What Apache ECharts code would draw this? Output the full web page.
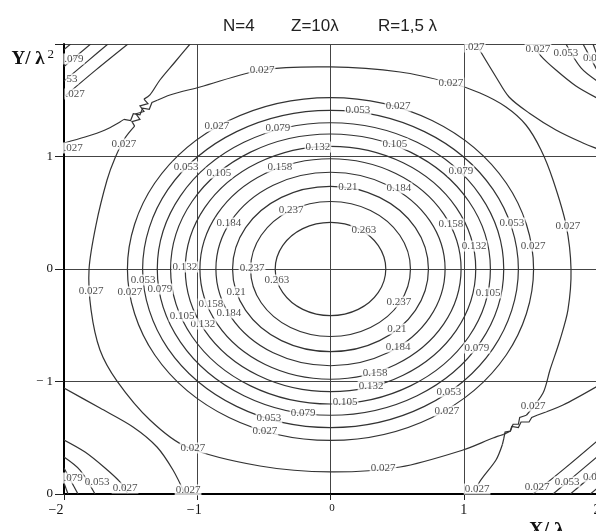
<!DOCTYPE html>
<html><head><meta charset="utf-8">
<script src="https://cdn.jsdelivr.net/npm/echarts@6.0.0/dist/echarts.min.js"></script>
<style>html,body{margin:0;padding:0;background:#fff}#c{width:596px;height:531px}</style>
</head><body><div id="c"></div>
<script>
// ---- axis ticks ----
const xTickValues = [-2, -1, 0, 1, 2];
const xTickLabels = ['−2', '−1', '0', '1', '2'];
const yTickValues = [-2, -1, 0, 1, 2];
const yTickLabels = ['0', '− 1', '0', '1', ''];

// ---- closed contour rings around the central peak (x/λ, y/λ) ----
const ring0263 = [[0.415,0],[0.359,0.208],[0.208,0.359],[0,0.415],[-0.208,0.359],[-0.359,0.208],[-0.415,0],[-0.359,-0.208],[-0.208,-0.359],[0,-0.415],[0.208,-0.359],[0.359,-0.208]];
const ring0237 = [[0.60,0],[0.520,0.30],[0.30,0.520],[0,0.60],[-0.30,0.520],[-0.520,0.30],[-0.60,0],[-0.520,-0.30],[-0.30,-0.520],[0,-0.60],[0.30,-0.520],[0.520,-0.30]];
const ring0210 = [[0.735,0],[0.637,0.368],[0.368,0.637],[0,0.735],[-0.368,0.637],[-0.637,0.368],[-0.735,0],[-0.637,-0.368],[-0.368,-0.637],[0,-0.735],[0.368,-0.637],[0.637,-0.368]];
const ring0184 = [[0.86,0],[0.745,0.43],[0.43,0.745],[0,0.86],[-0.43,0.745],[-0.745,0.43],[-0.86,0],[-0.745,-0.43],[-0.43,-0.745],[0,-0.86],[0.43,-0.745],[0.745,-0.43]];
const ring0158 = [[0.98,0],[0.849,0.49],[0.49,0.849],[0,0.98],[-0.49,0.849],[-0.849,0.49],[-0.98,0],[-0.849,-0.49],[-0.49,-0.849],[0,-0.98],[0.49,-0.849],[0.849,-0.49]];
const ring0132 = [[1.09,0],[0.944,0.545],[0.545,0.944],[0,1.09],[-0.545,0.944],[-0.944,0.545],[-1.09,0],[-0.944,-0.545],[-0.545,-0.944],[0,-1.09],[0.545,-0.944],[0.944,-0.545]];
const ring0105 = [[1.20,0],[1.039,0.60],[0.60,1.039],[0,1.20],[-0.60,1.039],[-1.039,0.60],[-1.20,0],[-1.039,-0.60],[-0.60,-1.039],[0,-1.20],[0.60,-1.039],[1.039,-0.60]];
const ring0079 = [[1.30,0],[1.126,0.65],[0.65,1.126],[0,1.30],[-0.65,1.126],[-1.126,0.65],[-1.30,0],[-1.126,-0.65],[-0.65,-1.126],[0,-1.30],[0.65,-1.126],[1.126,-0.65]];
const ring0053 = [[1.41,0],[1.221,0.705],[0.705,1.221],[0,1.41],[-0.705,1.221],[-1.221,0.705],[-1.41,0],[-1.221,-0.705],[-0.705,-1.221],[0,-1.41],[0.705,-1.221],[1.221,-0.705]];
const ring0027 = [[1.524,0],[1.320,0.762],[0.762,1.320],[0,1.524],[-0.762,1.320],[-1.320,0.762],[-1.524,0],[-1.320,-0.762],[-0.762,-1.320],[0,-1.524],[0.762,-1.320],[1.320,-0.762]];

// ---- outer 0.027 contour lines (two branches crossing at saddles) ----
const branchA_1 = [[-1.054,2.0],[-1.167,1.84],[-1.28,1.68],[-1.355,1.547],[-1.40,1.51]];
const branchA_zig1 = [[-1.40,1.51],[-1.37,1.47],[-1.43,1.45],[-1.40,1.40],[-1.46,1.38],[-1.43,1.33],[-1.49,1.31],[-1.47,1.27]];
const branchA_2 = [[-1.47,1.27],[-1.542,1.164],[-1.617,0.987],[-1.677,0.791],[-1.76,0.391],[-1.812,0],[-1.797,-0.364],[-1.73,-0.72],[-1.602,-0.996],[-1.355,-1.342],[-1.077,-1.582],[-0.529,-1.751],[0,-1.804],[0.522,-1.76],[0.994,-1.609],[1.22,-1.502],[1.30,-1.47]];
const branchA_zig2 = [[1.30,-1.47],[1.35,-1.44],[1.36,-1.40],[1.41,-1.41],[1.43,-1.36],[1.49,-1.36],[1.51,-1.32],[1.55,-1.30]];
const branchA_3 = [[1.55,-1.30],[1.745,-1.209],[2.0,-1.044]];

const branchB_1 = [[-2,1.12],[-1.842,1.173],[-1.692,1.236],[-1.58,1.307],[-1.55,1.33]];
const branchB_zig1 = [[-1.55,1.33],[-1.50,1.32],[-1.48,1.38],[-1.43,1.37],[-1.41,1.43],[-1.36,1.42],[-1.34,1.48],[-1.30,1.50]];
const branchB_2 = [[-1.30,1.50],[-1.205,1.547],[-0.979,1.618],[-0.514,1.769],[0,1.796],[0.522,1.751],[0.904,1.653],[1.122,1.564],[1.317,1.44],[1.467,1.28],[1.58,1.058],[1.67,0.791],[1.768,0.391],[1.805,0],[1.782,-0.364],[1.722,-0.631],[1.647,-0.898],[1.595,-1.102],[1.47,-1.30]];
const branchB_zig2 = [[1.47,-1.30],[1.42,-1.32],[1.41,-1.38],[1.37,-1.38],[1.35,-1.44],[1.31,-1.45],[1.30,-1.51],[1.29,-1.56]];
const branchB_3 = [[1.29,-1.56],[1.242,-1.698],[1.114,-1.902],[1.092,-2.0]];

// ---- corner contours ----
const bl027a = [[-2,-1.058],[-1.73,-1.236],[-1.482,-1.404],[-1.302,-1.582],[-1.182,-1.787],[-1.092,-2.0]];
const bl027b = [[-2,-1.52],[-1.842,-1.627],[-1.692,-1.769],[-1.58,-1.893],[-1.52,-2.0]];
const bl053 = [[-2,-1.671],[-1.88,-1.787],[-1.767,-2.0]];
const bl079 = [[-2,-1.769],[-1.895,-2.0]];
const bl105 = [[-2,-1.902],[-1.97,-2.0]];
const tr027a = [[1.092,2.0],[1.242,1.707],[1.34,1.529],[1.49,1.387],[1.692,1.236],[1.895,1.12],[2.0,1.07]];
const tr027b = [[2,1.52],[1.842,1.627],[1.692,1.769],[1.58,1.893],[1.52,2.0]];
const tr053 = [[2,1.671],[1.88,1.787],[1.767,2.0]];
const tr079 = [[2,1.769],[1.895,2.0]];
const tr105 = [[2,1.902],[1.97,2.0]];
const tl027 = [[-2,1.53],[-1.76,1.77],[-1.52,2.0]];
const tl053 = [[-2,1.67],[-1.82,1.85],[-1.67,2.0]];
const tl079 = [[-2,1.80],[-1.8,2.0]];
const tl105 = [[-2,1.95],[-1.95,2.0]];
const br027 = [[2,-1.53],[1.76,-1.77],[1.52,-2.0]];
const br053 = [[2,-1.67],[1.82,-1.85],[1.67,-2.0]];
const br079 = [[2,-1.8],[1.8,-2.0]];
const br105 = [[2,-1.95],[1.95,-2.0]];

// ---- contour labels: [x, y, text] ----
const contourLabels = [
  [-0.514,1.769,'0.027'],[-0.852,1.271,'0.027'],[-0.394,1.253,'0.079'],[0.206,1.413,'0.053'],
  [-0.094,1.084,'0.132'],[-0.837,0.853,'0.105'],[-0.379,0.907,'0.158'],[-1.084,0.907,'0.053'],
  [-1.55,1.111,'0.027'],[-1.932,1.076,'.027'],[-1.917,1.556,'.027'],[-1.94,1.689,'53'],
  [-1.925,1.867,'.079'],[0.904,1.653,'0.027'],[1.084,1.973,'.027'],[1.557,1.956,'0.027'],
  [1.767,1.92,'0.053'],[1.947,1.876,'0.0'],[0.507,1.449,'0.027'],[0.484,1.111,'0.105'],
  [0.979,0.871,'0.079'],[0.904,0.40,'0.158'],[1.362,0.409,'0.053'],[1.782,0.382,'0.027'],
  [1.077,0.204,'0.132'],[1.52,0.204,'0.027'],[1.182,-0.213,'0.105'],[1.099,-0.702,'0.079'],
  [0.514,0.72,'0.184'],[0.514,-0.293,'0.237'],[0.499,-0.533,'0.21'],[0.507,-0.693,'0.184'],
  [0.131,0.729,'0.21'],[-0.296,0.524,'0.237'],[-0.762,0.409,'0.184'],[0.251,0.347,'0.263'],
  [-0.589,0.009,'0.237'],[-0.402,-0.098,'0.263'],[-0.709,-0.204,'0.21'],[-0.897,-0.311,'0.158'],
  [-0.762,-0.391,'0.184'],[-0.957,-0.489,'0.132'],[-1.114,-0.418,'0.105'],[-1.407,-0.098,'0.053'],
  [-1.797,-0.196,'0.027'],[-1.505,-0.204,'0.027'],[-1.28,-0.178,'0.079'],[-1.092,0.018,'0.132'],
  [0.334,-0.924,'0.158'],[0.304,-1.04,'0.132'],[0.109,-1.182,'0.105'],[-0.206,-1.28,'0.079'],
  [-0.462,-1.324,'0.053'],[-0.492,-1.44,'0.027'],[-1.032,-1.591,'0.027'],[0.394,-1.769,'0.027'],
  [0.889,-1.093,'0.053'],[0.874,-1.262,'0.027'],[1.52,-1.218,'0.027'],[1.10,-1.956,'0.027'],
  [1.55,-1.938,'0.027'],[1.775,-1.893,'0.053'],[1.947,-1.849,'0.0'],[-1.932,-1.858,'.079'],
  [-1.752,-1.893,'0.053'],[-1.542,-1.947,'0.027'],[-1.069,-1.964,'0.027']
];

const titleParts = ['N=4', 'Z=10λ', 'R=1,5 λ'];

// ---------------------------------------------------------------
const LINE = '#333';
function contour(pts, closed, smooth) {
  return {
    type: 'custom', coordinateSystem: 'cartesian2d', silent: true, clip: true, z: 3,
    data: pts, encode: { x: 0, y: 1 },
    renderItem: function (params, api) {
      if (params.dataIndex !== 0) return null;
      const p = pts.map(function (d) { return api.coord(d); });
      return {
        type: closed ? 'polygon' : 'polyline',
        shape: { points: p, smooth: smooth },
        style: { fill: 'none', stroke: LINE, lineWidth: 1.2 }
      };
    }
  };
}
const rings = [ring0263, ring0237, ring0210, ring0184, ring0158, ring0132, ring0105, ring0079, ring0053, ring0027];
const smoothLines = [branchA_1, branchA_2, branchA_3, branchB_1, branchB_2, branchB_3,
  bl027a, bl027b, bl053, bl079, bl105, tr027a, tr027b, tr053, tr079, tr105,
  tl027, tl053, tl079, tl105, br027, br053, br079, br105];
const zigLines = [branchA_zig1, branchA_zig2, branchB_zig1, branchB_zig2];

const series = [];
rings.forEach(function (r) { series.push(contour(r, true, 0.35)); });
smoothLines.forEach(function (l) { series.push(contour(l, false, 0.3)); });
zigLines.forEach(function (l) { series.push(contour(l, false, 0)); });
series.push({
  type: 'scatter', z: 10, silent: true, symbolSize: 1,
  itemStyle: { color: 'rgba(0,0,0,0)' },
  data: contourLabels.map(function (d) { return { value: [d[0], d[1]], name: d[2] }; }),
  label: {
    show: true, position: 'inside', formatter: '{b}',
    fontFamily: 'Liberation Serif, Times New Roman, serif', fontSize: 11, color: '#222',
    backgroundColor: '#fff', padding: [0, 1, 0, 1]
  }
});

const chart = echarts.init(document.getElementById('c'), null, { renderer: 'canvas' });
chart.setOption({
  animation: false,
  backgroundColor: '#fff',
  title: [
    { text: titleParts[0], left: 218, top: 13, textStyle: { fontFamily: 'Liberation Sans, Arial, sans-serif', fontSize: 17, fontWeight: 'normal', color: '#222' } },
    { text: titleParts[1], left: 286, top: 13, textStyle: { fontFamily: 'Liberation Sans, Arial, sans-serif', fontSize: 17, fontWeight: 'normal', color: '#222' } },
    { text: titleParts[2], left: 373, top: 13, textStyle: { fontFamily: 'Liberation Sans, Arial, sans-serif', fontSize: 17, fontWeight: 'normal', color: '#222' } }
  ],
  grid: { left: 64, top: 44, width: 533, height: 450, containLabel: false, outerBoundsMode: 'none' },
  xAxis: {
    type: 'value', min: -2, max: 2, interval: 1,
    name: '{a|X/ }{b|λ}', nameLocation: 'end', nameGap: -68,
    nameTextStyle: { align: 'left', verticalAlign: 'top', padding: [26, 0, 0, 0],
      rich: { a: { fontFamily: 'Liberation Serif, serif', fontWeight: 'bold', fontSize: 20, color: '#111' },
              b: { fontFamily: 'Liberation Serif, serif', fontWeight: 'bold', fontSize: 22, color: '#111' } } },
    axisLine: { show: true, onZero: false, lineStyle: { color: '#000', width: 2 } },
    axisTick: { show: true, inside: false, length: 6, lineStyle: { color: '#222', width: 1 } },
    axisLabel: {
      margin: 9, color: '#111',
      formatter: function (v) {
        const i = xTickValues.indexOf(v);
        const t = i >= 0 ? xTickLabels[i] : '';
        if (v === 0) return '{s|' + t + '}';
        if (v === -2) return '{m2|' + t + '}';
        if (v === -1) return '{m1|' + t + '}';
        return '{n|' + t + '}';
      },
      rich: {
        n: { fontFamily: 'Liberation Serif, serif', fontSize: 14, color: '#111' },
        m2: { fontFamily: 'Liberation Serif, serif', fontSize: 14, color: '#111', padding: [0, 16, 0, 0] },
        m1: { fontFamily: 'Liberation Serif, serif', fontSize: 14, color: '#111', padding: [0, 6, 0, 0] },
        s: { fontFamily: 'Liberation Serif, serif', fontSize: 11, color: '#111', padding: [0, 0, 0, 3] }
      }
    },
    splitLine: { show: true, lineStyle: { color: '#444', width: 1 } }
  },
  yAxis: {
    type: 'value', min: -2, max: 2, interval: 1,
    name: '{a|Y/ }{b|λ}{c|2}', nameLocation: 'end', nameGap: -15,
    nameTextStyle: { align: 'right', verticalAlign: 'middle', padding: [0, 10, 0, 0],
      rich: { a: { fontFamily: 'Liberation Serif, serif', fontWeight: 'bold', fontSize: 19, color: '#111' },
              b: { fontFamily: 'Liberation Serif, serif', fontWeight: 'bold', fontSize: 19, color: '#111' },
              c: { fontFamily: 'Liberation Serif, serif', fontSize: 13, color: '#111', padding: [0, 0, 8, 3] } } },
    axisLine: { show: true, onZero: false, lineStyle: { color: '#000', width: 2 } },
    axisTick: { show: true, inside: false, length: 9, lineStyle: { color: '#222', width: 1 } },
    axisLabel: {
      margin: 11, color: '#111', fontFamily: 'Liberation Serif, serif', fontSize: 13,
      formatter: function (v) { const i = yTickValues.indexOf(v); return i >= 0 ? yTickLabels[i] : ''; }
    },
    splitLine: { show: true, lineStyle: { color: '#444', width: 1 } }
  },
  series: series
});
</script>
</body></html>
